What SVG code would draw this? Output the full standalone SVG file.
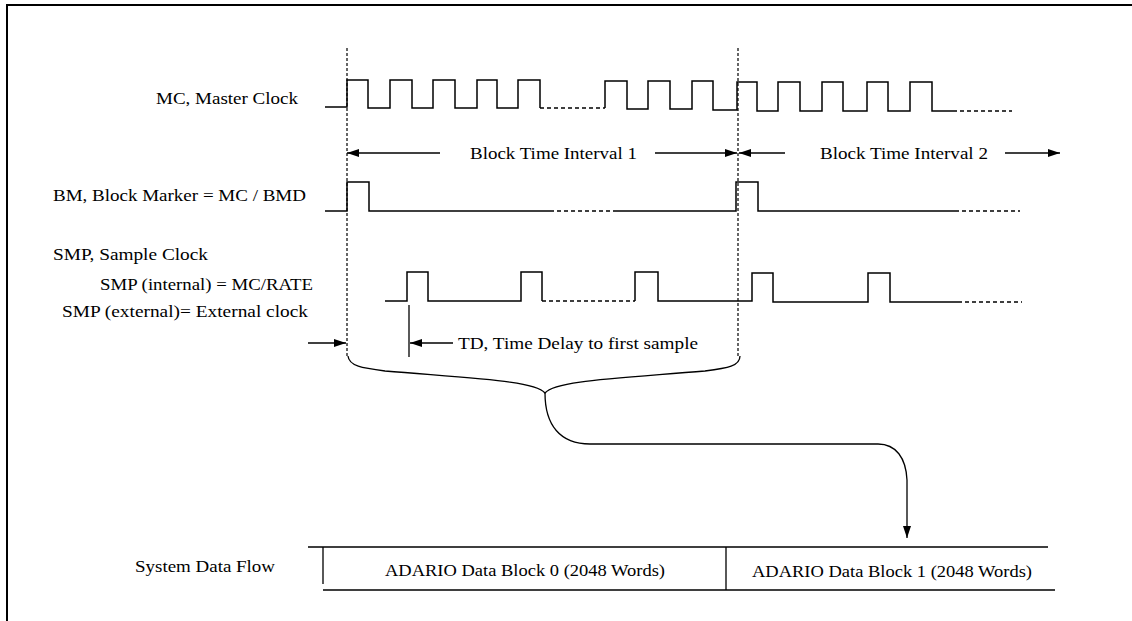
<svg xmlns="http://www.w3.org/2000/svg" width="1132" height="621" viewBox="0 0 1132 621">
<style>
text{font-family:"Liberation Serif","Times New Roman",serif;font-size:17px;fill:#000}
.w{fill:none;stroke:#000;stroke-width:1.5}
.d{fill:none;stroke:#000;stroke-width:1.5;stroke-dasharray:4 3}
.v{fill:none;stroke:#000;stroke-width:1.2;stroke-dasharray:3 2}
.a{fill:none;stroke:#000;stroke-width:1.3}
</style>
<defs>
<marker id="ah" viewBox="0 0 12 8" refX="12" refY="4" markerWidth="12" markerHeight="8" markerUnits="userSpaceOnUse" orient="auto">
<path d="M0,0 L12,4 L0,8 Z" fill="#000"/>
</marker>
</defs>
<rect width="1132" height="621" fill="#fff"/>
<path d="M7,621 V5 H1132" fill="none" stroke="#000" stroke-width="2"/>

<g id="mc">
<text x="156" y="104" textLength="142" lengthAdjust="spacingAndGlyphs">MC, Master Clock</text>
<path class="w" d="M325,107 H347 V80 H368 V108 H390 V80 H412 V108 H433 V80 H455 V108 H477 V80 H497 V108 H518 V80 H540 V108"/>
<path class="d" d="M540,108 H605"/>
<path class="w" d="M605,108 V81 H627 V109 H648 V81 H670 V109 H692 V81 H713 V110 H737 V82 H757 V111 H778 V82 H800 V111 H822 V82 H843 V111 H867 V82 H888 V111 H910 V82 H932 V111 H953"/>
<path class="d" d="M953,111 H1012"/>
</g>

<g id="bm">
<text x="53" y="201" textLength="253" lengthAdjust="spacingAndGlyphs">BM, Block Marker = MC / BMD</text>
<path class="w" d="M325,211 H347 V182 H369 V211 H550"/>
<path class="d" d="M550,211 H613"/>
<path class="w" d="M613,211 H736 V182 H758 V211 H955"/>
<path class="d" d="M955,211 H1020"/>
</g>

<g id="smp">
<text x="53" y="260" textLength="155" lengthAdjust="spacingAndGlyphs">SMP, Sample Clock</text>
<text x="100" y="290" textLength="213" lengthAdjust="spacingAndGlyphs">SMP (internal) = MC/RATE</text>
<text x="62" y="317" textLength="246" lengthAdjust="spacingAndGlyphs">SMP (external)= External clock</text>
<path class="w" d="M385,301 H407 V272 H428 V301 H521 V272 H542 V301"/>
<path class="d" d="M542,301 H635"/>
<path class="w" d="M635,301 V272 H658 V301 H752 V273 H773 V302 H868 V273 H890 V302 H958"/>
<path class="d" d="M958,302 H1022"/>
</g>

<g id="intervals">
<text x="470" y="159" textLength="167" lengthAdjust="spacingAndGlyphs">Block Time Interval 1</text>
<text x="820" y="159" textLength="168" lengthAdjust="spacingAndGlyphs">Block Time Interval 2</text>
<text x="458" y="349" textLength="240" lengthAdjust="spacingAndGlyphs">TD, Time Delay to first sample</text>
</g>

<g id="dataflow">
<text x="135" y="572" textLength="140" lengthAdjust="spacingAndGlyphs">System Data Flow</text>
<path class="a" d="M308,547 H1048 M323,547 V584 M726,547 V590 M323,590 H1055" stroke-width="1.6"/>
<text x="385" y="576" textLength="280" lengthAdjust="spacingAndGlyphs">ADARIO Data Block 0 (2048 Words)</text>
<text x="752" y="577" textLength="280" lengthAdjust="spacingAndGlyphs">ADARIO Data Block 1 (2048 Words)</text>
</g>

<g id="connectors">
<path class="v" d="M347,48 V358 M738,48 V358"/>
<line class="a" x1="440" y1="153" x2="347" y2="153" marker-end="url(#ah)"/>
<line class="a" x1="655" y1="153" x2="737" y2="153" marker-end="url(#ah)"/>
<line class="a" x1="785" y1="153" x2="739" y2="153" marker-end="url(#ah)"/>
<line class="a" x1="1005" y1="153" x2="1060" y2="153" marker-end="url(#ah)"/>
<line class="a" x1="308" y1="343" x2="346" y2="343" marker-end="url(#ah)"/>
<line class="a" x1="409" y1="305" x2="409" y2="357"/>
<line class="a" x1="453" y1="343" x2="410" y2="343" marker-end="url(#ah)"/>
<path class="a" d="M348,356 C349,366 362,368 385,371 C480,379 535,381 545,393 C555,381 610,379 705,371 C728,368 740,366 740,356"/>
<path class="a" d="M545,393 C545,425 560,444 590,444 H878 C896,444 906,458 907,480 V538" marker-end="url(#ah)"/>
</g>
</svg>
